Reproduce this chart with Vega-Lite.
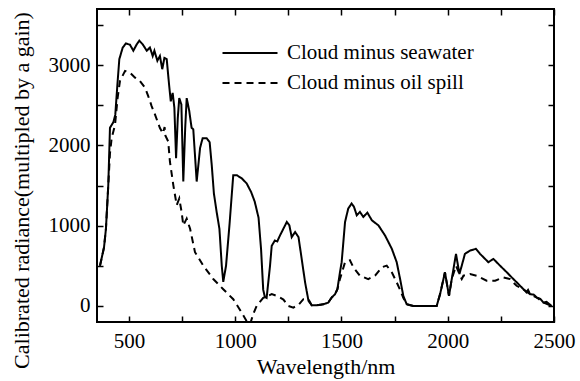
{
 "$schema": "https://vega.github.io/schema/vega-lite/v6.json",
 "width": 457, "height": 313,
 "autosize": {"type": "none"},
 "padding": {"left": 97, "top": 9, "right": 26, "bottom": 59},
 "background": "white",
 "config": {
  "view": {"stroke": "black", "strokeWidth": 2},
  "font": "Liberation Serif",
  "axis": {"grid": false, "domain": false, "tickColor": "black", "tickWidth": 1.5, "tickSize": -6, "labelColor": "black", "titleColor": "black", "labelFontSize": 21, "titleFontSize": 22, "titleFontWeight": "normal", "labelFont": "Liberation Serif", "titleFont": "Liberation Serif", "titleLimit": 1000}
 },
 "datasets": {
  "spectra": [
   {"wl":364,"v":500,"s":"Cloud minus seawater"},{"wl":383,"v":730,"s":"Cloud minus seawater"},{"wl":392,"v":960,"s":"Cloud minus seawater"},{"wl":403,"v":1500,"s":"Cloud minus seawater"},{"wl":411,"v":2220,"s":"Cloud minus seawater"},{"wl":427,"v":2290,"s":"Cloud minus seawater"},{"wl":436,"v":2380,"s":"Cloud minus seawater"},{"wl":446,"v":2760,"s":"Cloud minus seawater"},{"wl":455,"v":3075,"s":"Cloud minus seawater"},{"wl":471,"v":3220,"s":"Cloud minus seawater"},{"wl":486,"v":3270,"s":"Cloud minus seawater"},{"wl":505,"v":3255,"s":"Cloud minus seawater"},{"wl":521,"v":3180,"s":"Cloud minus seawater"},{"wl":537,"v":3260,"s":"Cloud minus seawater"},{"wl":549,"v":3305,"s":"Cloud minus seawater"},{"wl":565,"v":3260,"s":"Cloud minus seawater"},{"wl":584,"v":3180,"s":"Cloud minus seawater"},{"wl":599,"v":3220,"s":"Cloud minus seawater"},{"wl":612,"v":3115,"s":"Cloud minus seawater"},{"wl":620,"v":3180,"s":"Cloud minus seawater"},{"wl":634,"v":3055,"s":"Cloud minus seawater"},{"wl":646,"v":3115,"s":"Cloud minus seawater"},{"wl":657,"v":2950,"s":"Cloud minus seawater"},{"wl":667,"v":3090,"s":"Cloud minus seawater"},{"wl":678,"v":3075,"s":"Cloud minus seawater"},{"wl":689,"v":2760,"s":"Cloud minus seawater"},{"wl":697,"v":2550,"s":"Cloud minus seawater"},{"wl":706,"v":2655,"s":"Cloud minus seawater"},{"wl":714,"v":2470,"s":"Cloud minus seawater"},{"wl":722,"v":1840,"s":"Cloud minus seawater"},{"wl":730,"v":2340,"s":"Cloud minus seawater"},{"wl":737,"v":2590,"s":"Cloud minus seawater"},{"wl":747,"v":2510,"s":"Cloud minus seawater"},{"wl":756,"v":1550,"s":"Cloud minus seawater"},{"wl":765,"v":2220,"s":"Cloud minus seawater"},{"wl":772,"v":2590,"s":"Cloud minus seawater"},{"wl":784,"v":2430,"s":"Cloud minus seawater"},{"wl":795,"v":2220,"s":"Cloud minus seawater"},{"wl":803,"v":2200,"s":"Cloud minus seawater"},{"wl":819,"v":1550,"s":"Cloud minus seawater"},{"wl":835,"v":1970,"s":"Cloud minus seawater"},{"wl":847,"v":2090,"s":"Cloud minus seawater"},{"wl":866,"v":2090,"s":"Cloud minus seawater"},{"wl":880,"v":2040,"s":"Cloud minus seawater"},{"wl":890,"v":1750,"s":"Cloud minus seawater"},{"wl":900,"v":1400,"s":"Cloud minus seawater"},{"wl":913,"v":1170,"s":"Cloud minus seawater"},{"wl":926,"v":960,"s":"Cloud minus seawater"},{"wl":937,"v":500,"s":"Cloud minus seawater"},{"wl":944,"v":300,"s":"Cloud minus seawater"},{"wl":957,"v":500,"s":"Cloud minus seawater"},{"wl":973,"v":1000,"s":"Cloud minus seawater"},{"wl":991,"v":1630,"s":"Cloud minus seawater"},{"wl":1007,"v":1630,"s":"Cloud minus seawater"},{"wl":1031,"v":1590,"s":"Cloud minus seawater"},{"wl":1054,"v":1527,"s":"Cloud minus seawater"},{"wl":1075,"v":1420,"s":"Cloud minus seawater"},{"wl":1092,"v":1300,"s":"Cloud minus seawater"},{"wl":1110,"v":1100,"s":"Cloud minus seawater"},{"wl":1122,"v":700,"s":"Cloud minus seawater"},{"wl":1132,"v":200,"s":"Cloud minus seawater"},{"wl":1140,"v":110,"s":"Cloud minus seawater"},{"wl":1148,"v":100,"s":"Cloud minus seawater"},{"wl":1156,"v":300,"s":"Cloud minus seawater"},{"wl":1164,"v":500,"s":"Cloud minus seawater"},{"wl":1172,"v":750,"s":"Cloud minus seawater"},{"wl":1187,"v":816,"s":"Cloud minus seawater"},{"wl":1198,"v":803,"s":"Cloud minus seawater"},{"wl":1211,"v":879,"s":"Cloud minus seawater"},{"wl":1227,"v":963,"s":"Cloud minus seawater"},{"wl":1243,"v":1047,"s":"Cloud minus seawater"},{"wl":1255,"v":1004,"s":"Cloud minus seawater"},{"wl":1266,"v":858,"s":"Cloud minus seawater"},{"wl":1282,"v":921,"s":"Cloud minus seawater"},{"wl":1298,"v":858,"s":"Cloud minus seawater"},{"wl":1313,"v":586,"s":"Cloud minus seawater"},{"wl":1329,"v":294,"s":"Cloud minus seawater"},{"wl":1345,"v":63,"s":"Cloud minus seawater"},{"wl":1360,"v":9,"s":"Cloud minus seawater"},{"wl":1384,"v":9,"s":"Cloud minus seawater"},{"wl":1415,"v":21,"s":"Cloud minus seawater"},{"wl":1438,"v":42,"s":"Cloud minus seawater"},{"wl":1454,"v":105,"s":"Cloud minus seawater"},{"wl":1470,"v":147,"s":"Cloud minus seawater"},{"wl":1481,"v":209,"s":"Cloud minus seawater"},{"wl":1493,"v":419,"s":"Cloud minus seawater"},{"wl":1501,"v":545,"s":"Cloud minus seawater"},{"wl":1517,"v":1047,"s":"Cloud minus seawater"},{"wl":1532,"v":1214,"s":"Cloud minus seawater"},{"wl":1548,"v":1276,"s":"Cloud minus seawater"},{"wl":1559,"v":1235,"s":"Cloud minus seawater"},{"wl":1572,"v":1130,"s":"Cloud minus seawater"},{"wl":1587,"v":1172,"s":"Cloud minus seawater"},{"wl":1603,"v":1109,"s":"Cloud minus seawater"},{"wl":1622,"v":1163,"s":"Cloud minus seawater"},{"wl":1643,"v":1067,"s":"Cloud minus seawater"},{"wl":1674,"v":1004,"s":"Cloud minus seawater"},{"wl":1705,"v":879,"s":"Cloud minus seawater"},{"wl":1737,"v":712,"s":"Cloud minus seawater"},{"wl":1760,"v":545,"s":"Cloud minus seawater"},{"wl":1776,"v":335,"s":"Cloud minus seawater"},{"wl":1791,"v":126,"s":"Cloud minus seawater"},{"wl":1807,"v":21,"s":"Cloud minus seawater"},{"wl":1838,"v":0,"s":"Cloud minus seawater"},{"wl":1948,"v":0,"s":"Cloud minus seawater"},{"wl":1964,"v":147,"s":"Cloud minus seawater"},{"wl":1987,"v":419,"s":"Cloud minus seawater"},{"wl":2006,"v":126,"s":"Cloud minus seawater"},{"wl":2019,"v":335,"s":"Cloud minus seawater"},{"wl":2039,"v":649,"s":"Cloud minus seawater"},{"wl":2055,"v":398,"s":"Cloud minus seawater"},{"wl":2066,"v":502,"s":"Cloud minus seawater"},{"wl":2081,"v":649,"s":"Cloud minus seawater"},{"wl":2105,"v":690,"s":"Cloud minus seawater"},{"wl":2133,"v":712,"s":"Cloud minus seawater"},{"wl":2152,"v":649,"s":"Cloud minus seawater"},{"wl":2176,"v":586,"s":"Cloud minus seawater"},{"wl":2191,"v":545,"s":"Cloud minus seawater"},{"wl":2215,"v":586,"s":"Cloud minus seawater"},{"wl":2246,"v":502,"s":"Cloud minus seawater"},{"wl":2278,"v":419,"s":"Cloud minus seawater"},{"wl":2309,"v":335,"s":"Cloud minus seawater"},{"wl":2333,"v":272,"s":"Cloud minus seawater"},{"wl":2356,"v":209,"s":"Cloud minus seawater"},{"wl":2370,"v":170,"s":"Cloud minus seawater"},{"wl":2378,"v":200,"s":"Cloud minus seawater"},{"wl":2387,"v":147,"s":"Cloud minus seawater"},{"wl":2405,"v":140,"s":"Cloud minus seawater"},{"wl":2419,"v":105,"s":"Cloud minus seawater"},{"wl":2435,"v":90,"s":"Cloud minus seawater"},{"wl":2450,"v":42,"s":"Cloud minus seawater"},{"wl":2465,"v":50,"s":"Cloud minus seawater"},{"wl":2489,"v":0,"s":"Cloud minus seawater"},

   {"wl":364,"v":500,"s":"Cloud minus oil spill"},{"wl":383,"v":730,"s":"Cloud minus oil spill"},{"wl":392,"v":960,"s":"Cloud minus oil spill"},{"wl":403,"v":1500,"s":"Cloud minus oil spill"},{"wl":411,"v":1900,"s":"Cloud minus oil spill"},{"wl":419,"v":2092,"s":"Cloud minus oil spill"},{"wl":435,"v":2259,"s":"Cloud minus oil spill"},{"wl":447,"v":2594,"s":"Cloud minus oil spill"},{"wl":458,"v":2803,"s":"Cloud minus oil spill"},{"wl":482,"v":2929,"s":"Cloud minus oil spill"},{"wl":505,"v":2908,"s":"Cloud minus oil spill"},{"wl":529,"v":2845,"s":"Cloud minus oil spill"},{"wl":552,"v":2803,"s":"Cloud minus oil spill"},{"wl":576,"v":2719,"s":"Cloud minus oil spill"},{"wl":591,"v":2615,"s":"Cloud minus oil spill"},{"wl":607,"v":2490,"s":"Cloud minus oil spill"},{"wl":623,"v":2384,"s":"Cloud minus oil spill"},{"wl":646,"v":2217,"s":"Cloud minus oil spill"},{"wl":660,"v":2150,"s":"Cloud minus oil spill"},{"wl":668,"v":2230,"s":"Cloud minus oil spill"},{"wl":672,"v":2120,"s":"Cloud minus oil spill"},{"wl":685,"v":2050,"s":"Cloud minus oil spill"},{"wl":693,"v":1800,"s":"Cloud minus oil spill"},{"wl":709,"v":1506,"s":"Cloud minus oil spill"},{"wl":725,"v":1255,"s":"Cloud minus oil spill"},{"wl":737,"v":1339,"s":"Cloud minus oil spill"},{"wl":748,"v":1172,"s":"Cloud minus oil spill"},{"wl":756,"v":1004,"s":"Cloud minus oil spill"},{"wl":772,"v":1088,"s":"Cloud minus oil spill"},{"wl":788,"v":962,"s":"Cloud minus oil spill"},{"wl":811,"v":670,"s":"Cloud minus oil spill"},{"wl":850,"v":502,"s":"Cloud minus oil spill"},{"wl":897,"v":335,"s":"Cloud minus oil spill"},{"wl":944,"v":209,"s":"Cloud minus oil spill"},{"wl":991,"v":84,"s":"Cloud minus oil spill"},{"wl":1031,"v":-84,"s":"Cloud minus oil spill"},{"wl":1054,"v":-190,"s":"Cloud minus oil spill"},{"wl":1070,"v":-230,"s":"Cloud minus oil spill"},{"wl":1085,"v":-100,"s":"Cloud minus oil spill"},{"wl":1101,"v":0,"s":"Cloud minus oil spill"},{"wl":1132,"v":100,"s":"Cloud minus oil spill"},{"wl":1172,"v":147,"s":"Cloud minus oil spill"},{"wl":1195,"v":126,"s":"Cloud minus oil spill"},{"wl":1227,"v":80,"s":"Cloud minus oil spill"},{"wl":1250,"v":0,"s":"Cloud minus oil spill"},{"wl":1274,"v":-21,"s":"Cloud minus oil spill"},{"wl":1300,"v":20,"s":"Cloud minus oil spill"},{"wl":1321,"v":84,"s":"Cloud minus oil spill"},{"wl":1345,"v":84,"s":"Cloud minus oil spill"},{"wl":1360,"v":9,"s":"Cloud minus oil spill"},{"wl":1384,"v":9,"s":"Cloud minus oil spill"},{"wl":1415,"v":21,"s":"Cloud minus oil spill"},{"wl":1438,"v":42,"s":"Cloud minus oil spill"},{"wl":1454,"v":105,"s":"Cloud minus oil spill"},{"wl":1470,"v":147,"s":"Cloud minus oil spill"},{"wl":1481,"v":209,"s":"Cloud minus oil spill"},{"wl":1493,"v":335,"s":"Cloud minus oil spill"},{"wl":1517,"v":545,"s":"Cloud minus oil spill"},{"wl":1540,"v":570,"s":"Cloud minus oil spill"},{"wl":1556,"v":482,"s":"Cloud minus oil spill"},{"wl":1587,"v":377,"s":"Cloud minus oil spill"},{"wl":1626,"v":335,"s":"Cloud minus oil spill"},{"wl":1658,"v":377,"s":"Cloud minus oil spill"},{"wl":1690,"v":482,"s":"Cloud minus oil spill"},{"wl":1713,"v":502,"s":"Cloud minus oil spill"},{"wl":1737,"v":419,"s":"Cloud minus oil spill"},{"wl":1760,"v":294,"s":"Cloud minus oil spill"},{"wl":1776,"v":200,"s":"Cloud minus oil spill"},{"wl":1791,"v":100,"s":"Cloud minus oil spill"},{"wl":1807,"v":21,"s":"Cloud minus oil spill"},{"wl":1838,"v":0,"s":"Cloud minus oil spill"},{"wl":1948,"v":0,"s":"Cloud minus oil spill"},{"wl":1964,"v":147,"s":"Cloud minus oil spill"},{"wl":1987,"v":419,"s":"Cloud minus oil spill"},{"wl":2006,"v":126,"s":"Cloud minus oil spill"},{"wl":2019,"v":335,"s":"Cloud minus oil spill"},{"wl":2039,"v":500,"s":"Cloud minus oil spill"},{"wl":2055,"v":398,"s":"Cloud minus oil spill"},{"wl":2066,"v":335,"s":"Cloud minus oil spill"},{"wl":2074,"v":377,"s":"Cloud minus oil spill"},{"wl":2105,"v":398,"s":"Cloud minus oil spill"},{"wl":2136,"v":377,"s":"Cloud minus oil spill"},{"wl":2183,"v":314,"s":"Cloud minus oil spill"},{"wl":2223,"v":314,"s":"Cloud minus oil spill"},{"wl":2262,"v":356,"s":"Cloud minus oil spill"},{"wl":2293,"v":335,"s":"Cloud minus oil spill"},{"wl":2324,"v":251,"s":"Cloud minus oil spill"},{"wl":2356,"v":209,"s":"Cloud minus oil spill"},{"wl":2387,"v":147,"s":"Cloud minus oil spill"},{"wl":2419,"v":105,"s":"Cloud minus oil spill"},{"wl":2450,"v":42,"s":"Cloud minus oil spill"},{"wl":2489,"v":0,"s":"Cloud minus oil spill"}
  ]
 },
 "data": {"name": "spectra"},
 "layer": [
  {
   "mark": {"type": "line", "clip": true, "strokeWidth": 2, "color": "black"},
   "encoding": {
    "x": {"field": "wl", "type": "quantitative", "sort": null,
      "scale": {"domain": [350, 2500], "nice": false, "zero": false},
      "axis": {"orient": "bottom", "title": "Wavelength/nm", "values": [500,750,1000,1250,1500,1750,2000,2250,2500], "labelExpr": "datum.value % 500 === 0 ? datum.label : ''", "format": "d", "labelPadding": 14, "titlePadding": 5, "labelFlush": false}},
    "y": {"field": "v", "type": "quantitative",
      "scale": {"domain": [-200, 3700], "nice": false, "zero": false},
      "axis": {"orient": "left", "title": "Calibrated radiance(multipled by a gain)", "values": [0,500,1000,1500,2000,2500,3000,3500], "labelExpr": "datum.value % 1000 === 0 ? datum.label : ''", "format": "d", "labelPadding": 13, "titleX": -76, "titleY": 181, "titleAlign": "center", "titleBaseline": "middle", "titleAngle": -90}},
    "strokeDash": {"field": "s", "type": "nominal",
      "scale": {"domain": ["Cloud minus seawater", "Cloud minus oil spill"], "range": [[1, 0], [7, 5]]},
      "legend": {"title": null, "orient": "none", "legendX": 141, "legendY": 32, "symbolType": "M-2.5,0L2.5,0", "symbolSize": 484, "symbolStrokeWidth": 2, "symbolStrokeColor": "black", "symbolFillColor": "transparent", "labelFontSize": 21, "labelFont": "Liberation Serif", "labelColor": "black", "labelLimit": 0, "rowPadding": 8, "labelOffset": 25, "padding": 0}}
   }
  },
  {
   "mark": {"type": "point", "opacity": 0},
   "encoding": {
    "x": {"field": "wl", "type": "quantitative",
      "scale": {"domain": [350, 2500], "nice": false, "zero": false},
      "axis": {"orient": "top", "title": null, "labels": false, "values": [500,750,1000,1250,1500,1750,2000,2250,2500]}},
    "y": {"field": "v", "type": "quantitative",
      "scale": {"domain": [-200, 3700], "nice": false, "zero": false},
      "axis": {"orient": "right", "title": null, "labels": false, "values": [0,500,1000,1500,2000,2500,3000,3500]}}
   }
  }
 ],
 "resolve": {"axis": {"x": "independent", "y": "independent"}}
}
